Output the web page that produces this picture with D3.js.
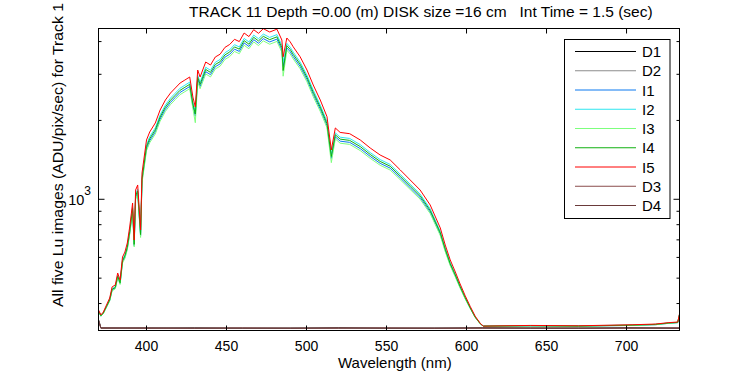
<!DOCTYPE html>
<html>
<head>
<meta charset="utf-8">
<script src="https://d3js.org/d3.v7.min.js"></script>
<style>
  html, body { margin: 0; padding: 0; background: #fff; }
  svg { display: block; font-family: Arial, "Liberation Sans", sans-serif; }
</style>
</head>
<body>
<div id="chart"></div>
<script>
// ─── DATA ───
const titleText = "TRACK 11 Depth =0.00 (m) DISK size =16 cm   Int Time = 1.5 (sec)";
const xLabel = "Wavelength (nm)";
const yLabel = "All five Lu images (ADU/pix/sec) for Track 1";

const xTicks = [400, 450, 500, 550, 600, 650, 700];
const yMajor = [1000];
const yMinor = [400, 500, 600, 700, 800, 900, 2000, 3000, 4000];

// wavelength grid for the five Lu images
const wavelengths = [370, 371.5, 373, 375, 377, 378.5, 380.5, 382, 383.5, 385,
  386.5, 388, 389.5, 390.5, 391.3, 392.3, 393.2, 394.5, 396.3, 397.2,
  398.3, 400, 402, 405.5, 408.5, 411.8, 415, 418, 421, 424,
  427, 429, 430.5, 432, 433.5, 437, 440, 443, 446, 449,
  452, 455, 458, 461, 464, 467, 470, 473, 477, 481.5,
  484.6, 485.4, 487.7, 489.8, 491.7, 496, 500.3, 504.2, 508.6, 512.8,
  515.5, 518, 521, 527, 533.6, 539.8, 546, 552.3, 558.6, 564.8,
  571, 577.3, 583.6, 586.7, 589.8, 593, 596, 599.2, 602.3, 605.4,
  608.6, 610.5, 640, 670, 704, 718, 726, 732, 733.1];

const lu1 = [373, 358, 367, 388, 411, 450, 458, 505, 477, 577,
  601, 649, 742, 830, 910, 665, 1016, 1061, 724, 1176,
  1315, 1561, 1673, 1809, 2024, 2207, 2345, 2450, 2558, 2625,
  2695, 2265, 2077, 2864, 2695, 3070, 2991, 3208, 3287, 3487,
  3578, 3742, 3669, 3953, 3833, 4069, 3942, 4106, 3987, 4088,
  3719, 3214, 3785, 3660, 3505, 3214, 2864, 2514, 2207, 1910,
  1433, 1732, 1667, 1649, 1561, 1458, 1372, 1315, 1207, 1107,
  1016, 894, 736, 638, 563, 509, 461, 418, 384, 355,
  335, 328, 329, 328, 330, 332, 336, 338, 362];

const lu2 = [375, 360, 369, 391, 415, 456, 464, 513, 483, 588,
  614, 663, 761, 852, 936, 680, 1047, 1093, 742, 1213,
  1358, 1616, 1733, 1874, 2098, 2289, 2434, 2543, 2656, 2726,
  2800, 2350, 2155, 2975, 2800, 3191, 3108, 3334, 3417, 3626,
  3721, 3892, 3816, 4112, 3987, 4234, 4101, 4272, 4149, 4253,
  3868, 3341, 3937, 3807, 3645, 3341, 2975, 2611, 2289, 1980,
  1482, 1794, 1726, 1707, 1616, 1508, 1418, 1358, 1245, 1142,
  1047, 920, 754, 652, 574, 518, 467, 423, 387, 356,
  335, 328, 329, 329, 331, 333, 337, 339, 364];

const lu3 = [372, 358, 366, 387, 409, 447, 455, 501, 473, 571,
  595, 642, 733, 819, 897, 658, 1001, 1045, 715, 1157,
  1293, 1534, 1644, 1776, 1986, 2165, 2300, 2403, 2509, 2575,
  2643, 2222, 1960, 2808, 2643, 3010, 2932, 3144, 3222, 3417,
  3506, 3667, 3595, 3873, 3756, 3987, 3862, 4023, 3907, 4005,
  3644, 2950, 3708, 3587, 3435, 3150, 2808, 2466, 2165, 1875,
  1380, 1701, 1637, 1620, 1534, 1433, 1349, 1293, 1187, 1090,
  1001, 882, 727, 631, 558, 505, 458, 416, 383, 354,
  334, 328, 329, 328, 330, 332, 336, 338, 362];

const lu4 = [374, 359, 368, 390, 413, 453, 461, 509, 480, 582,
  608, 656, 752, 841, 923, 673, 1032, 1077, 733, 1194,
  1337, 1589, 1703, 1842, 2061, 2248, 2389, 2496, 2607, 2676,
  2747, 2308, 2116, 2919, 2747, 3131, 3050, 3271, 3352, 3557,
  3650, 3817, 3743, 4033, 3910, 4152, 4022, 4189, 4068, 4170,
  3794, 3100, 3861, 3733, 3575, 3278, 2919, 2562, 2248, 1945,
  1458, 1763, 1697, 1678, 1589, 1483, 1395, 1337, 1226, 1125,
  1032, 907, 745, 645, 568, 514, 464, 421, 385, 355,
  335, 328, 329, 328, 331, 333, 337, 339, 363];

const lu5 = [378, 362, 371, 395, 420, 463, 471, 523, 492, 602,
  629, 681, 784, 880, 968, 699, 1085, 1134, 764, 1260,
  1413, 1684, 1807, 1956, 2192, 2393, 2545, 2660, 2779, 2853,
  2930, 2457, 2251, 3115, 2930, 3342, 3255, 3493, 3580, 3800,
  3900, 4080, 4000, 4312, 4180, 4440, 4300, 4480, 4350, 4460,
  4055, 3500, 4127, 3990, 3820, 3500, 3115, 2731, 2393, 2067,
  1543, 1872, 1800, 1780, 1684, 1570, 1476, 1413, 1294, 1185,
  1085, 951, 777, 669, 587, 528, 475, 428, 390, 358,
  336, 328, 330, 329, 332, 334, 338, 340, 365];

// dark frames sit on the floor of the plot
const darkWaves = [370, 370.6, 371.5, 400, 430, 460, 490, 520, 550, 580, 610, 640, 670, 700, 733.1];
const dark1 = [347, 338, 323, 322, 323, 322, 322, 323, 322, 322, 323, 322, 322, 323, 322];
const dark2 = [346, 337, 322, 323, 322, 322, 323, 322, 322, 323, 322, 322, 323, 322, 323];
const dark3 = [345, 336, 323, 322, 322, 323, 322, 322, 323, 322, 322, 323, 322, 322, 323];
const dark4 = [344, 335, 322, 323, 322, 322, 322, 323, 322, 322, 323, 322, 322, 323, 322];

const seriesNames = ["D1", "D2", "I1", "I2", "I3", "I4", "I5", "D3", "D4"];
const seriesColors = ["#000000", "#8c8c8c", "#0a78f0", "#2ee6f0", "#7dff7d", "#10b010", "#ff0000", "#8a4c4c", "#6a3a3a"];

// ─── LAYOUT ───
const width = 750, height = 375;
const plot = { left: 98.5, right: 679.5, top: 28.5, bottom: 330.5 };

const svg = d3.select("#chart").append("svg")
    .attr("width", width)
    .attr("height", height);

const x = d3.scaleLinear().domain([370, 733.1]).range([plot.left, plot.right]);
const y = d3.scaleLog().domain([315.6, 4487]).range([plot.bottom, plot.top]);

// ─── LINES ───
svg.append("clipPath").attr("id", "plot-clip")
    .append("rect")
    .attr("x", plot.left).attr("y", plot.top)
    .attr("width", plot.right - plot.left)
    .attr("height", plot.bottom - plot.top);

const toPoints = (xs, ys) => xs.map((w, i) => ({ w, v: ys[i] }));
const seriesData = [
    toPoints(darkWaves, dark1), toPoints(darkWaves, dark2),
    toPoints(wavelengths, lu1), toPoints(wavelengths, lu2), toPoints(wavelengths, lu3),
    toPoints(wavelengths, lu4), toPoints(wavelengths, lu5),
    toPoints(darkWaves, dark3), toPoints(darkWaves, dark4)
];

const line = d3.line().x(d => x(d.w)).y(d => y(d.v));

svg.append("g")
    .attr("clip-path", "url(#plot-clip)")
    .selectAll("path")
    .data(seriesData)
    .enter()
    .append("path")
    .attr("d", line)
    .attr("fill", "none")
    .attr("stroke", (d, i) => seriesColors[i])
    .attr("stroke-width", 1);

// ─── AXES (ticks point inward on all four sides) ───
const styleAxis = g => {
    g.select(".domain").remove();
    g.attr("font-family", null).attr("font-size", 14);
    g.selectAll(".tick line").attr("stroke", "#000");
    g.selectAll(".tick text").attr("fill", "#000");
};

svg.append("g")
    .attr("transform", `translate(0,${plot.bottom})`)
    .call(d3.axisBottom(x).tickValues(xTicks).tickSize(-5).tickPadding(11).offset(0).tickFormat(d3.format("d")))
    .call(styleAxis);

svg.append("g")
    .attr("transform", `translate(0,${plot.top})`)
    .call(d3.axisTop(x).tickValues(xTicks).tickSize(-5).offset(0).tickFormat(""))
    .call(styleAxis);

[[plot.left, d3.axisLeft], [plot.right, d3.axisRight]].forEach(([pos, axis]) => {
    svg.append("g")
        .attr("transform", `translate(${pos},0)`)
        .call(axis(y).tickValues(yMajor).tickSize(-6).offset(0).tickFormat(""))
        .call(styleAxis);
    svg.append("g")
        .attr("transform", `translate(${pos},0)`)
        .call(axis(y).tickValues(yMinor).tickSize(-3).offset(0).tickFormat(""))
        .call(styleAxis);
});

// 10^3 label
const expLabel = svg.append("text")
    .attr("x", 91)
    .attr("y", y(1000) + 5.5)
    .attr("text-anchor", "end")
    .attr("font-size", 14.5);
expLabel.append("tspan").text("10");
expLabel.append("tspan").attr("dy", -10).attr("font-size", 12).text("3");

svg.append("rect")
    .attr("x", plot.left).attr("y", plot.top)
    .attr("width", plot.right - plot.left)
    .attr("height", plot.bottom - plot.top)
    .attr("fill", "none")
    .attr("stroke", "#000");

// ─── TITLES ───
svg.append("text")
    .attr("x", 189)
    .attr("y", 17)
    .attr("font-size", 15.5)
    .style("white-space", "pre")
    .text(titleText);

svg.append("text")
    .attr("x", 338)
    .attr("y", 368)
    .attr("font-size", 15)
    .text(xLabel);

svg.append("text")
    .attr("transform", "translate(63,307) rotate(-90)")
    .attr("font-size", 15.5)
    .attr("textLength", 304)
    .attr("lengthAdjust", "spacingAndGlyphs")
    .text(yLabel);

// ─── LEGEND ───
const legend = svg.append("g");
legend.append("rect")
    .attr("x", 564.5).attr("y", 39.5)
    .attr("width", 105.5).attr("height", 179)
    .attr("fill", "#fff")
    .attr("stroke", "#000");

const rows = legend.selectAll(".row")
    .data(seriesNames)
    .enter()
    .append("g")
    .attr("transform", (d, i) => `translate(0,${51.5 + i * 19.25})`);

rows.append("line")
    .attr("x1", 575).attr("x2", 636)
    .attr("stroke", (d, i) => seriesColors[i]);

rows.append("text")
    .attr("x", 642)
    .attr("y", 5.5)
    .attr("font-size", 15)
    .text(d => d);
</script>
</body>
</html>
